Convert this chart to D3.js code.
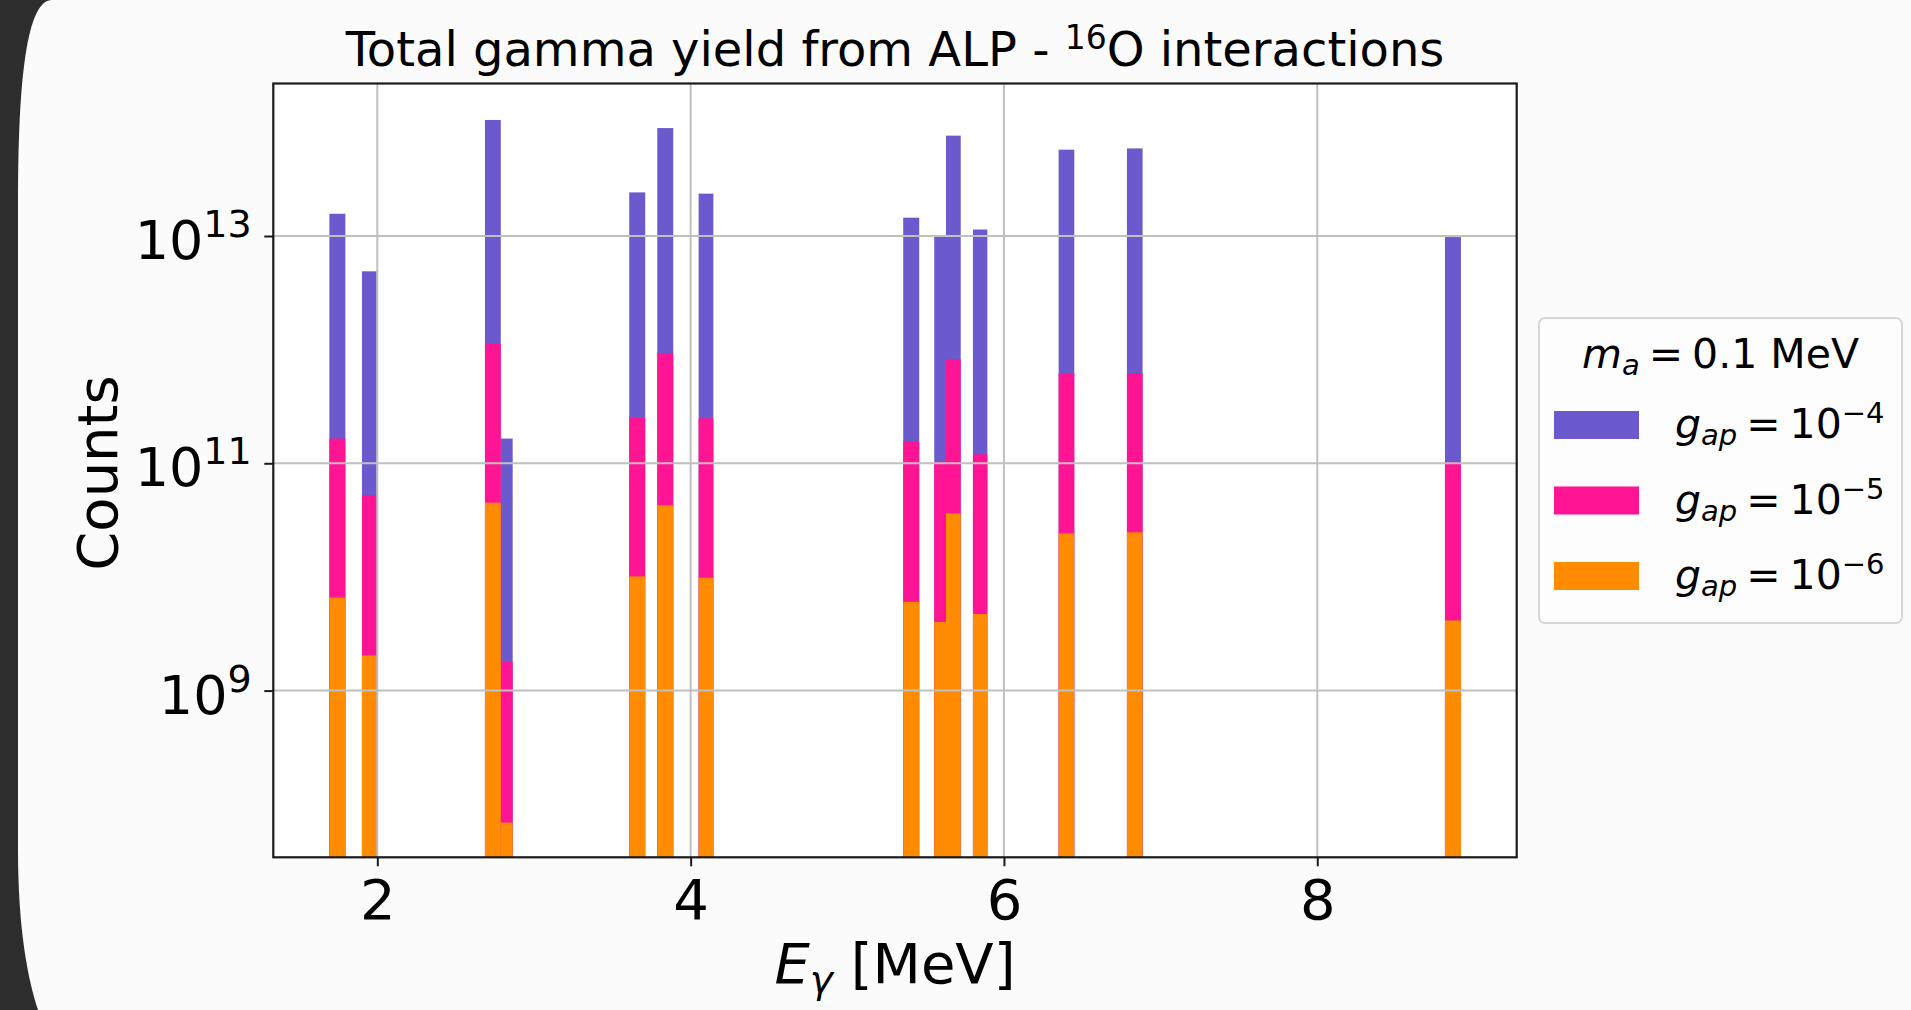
<!DOCTYPE html>
<html>
<head>
<meta charset="utf-8">
<script src="https://cdn.jsdelivr.net/npm/d3@7/dist/d3.min.js"></script>
<style>
  html, body { margin: 0; padding: 0; background: #2d2d2d; overflow: hidden; }
  svg { display: block; font-family: "DejaVu Sans", sans-serif; }
</style>
</head>
<body>
<div id="chart"></div>
<script>
"use strict";

// gamma line bins [MeV]
var binStart = [1.694, 1.902, 2.687, 2.788, 3.608, 3.787, 4.051, 5.357, 5.555, 5.630, 5.802, 6.349, 6.785, 8.815];
var binEnd = [1.796, 1.996, 2.788, 2.864, 3.710, 3.889, 4.145, 5.459, 5.630, 5.724, 5.894, 6.449, 6.885, 8.917];

// counts per bin for each coupling
var countsG4 = [1.57e13, 4.89e12, 1.05e14, 1.65e11, 2.42e13, 8.91e13, 2.36e13, 1.45e13, 9.86e12, 7.64e13, 1.14e13, 5.75e13, 5.90e13, 9.79e12];
var countsG5 = [1.65e11, 5.26e10, 1.13e12, 1.79e9, 2.54e11, 9.35e11, 2.49e11, 1.56e11, 1.03e11, 8.22e11, 1.20e11, 6.19e11, 6.19e11, 1.02e11];
var countsG6 = [6.58e9, 2.04e9, 4.50e10, 6.89e7, 1.01e10, 4.27e10, 9.84e9, 6.03e9, 4.02e9, 3.63e10, 4.72e9, 2.42e10, 2.47e10, 4.14e9];

var xTicks = [2, 4, 6, 8];
var yTicks = [1e9, 1e11, 1e13];
var yTickExp = ["9", "11", "13"];
var seriesExp = ["\u22124", "\u22125", "\u22126"];

var colors = ["#6a5acd", "#ff1493", "#ff8c00"];

draw(document.getElementById("chart"));

function draw(element) {
  var W = 1911, H = 1010;
  var margin = { top: 83.5, right: 394.3, bottom: 152.7, left: 273.3 },
    width = W - margin.left - margin.right,
    height = H - margin.top - margin.bottom;

  var x = d3.scaleLinear().domain([1.336, 9.273]).range([0, width]);
  var y = d3
    .scaleLog()
    .domain([Math.pow(10, 7.533), Math.pow(10, 14.342)])
    .range([height, 0]);

  var root = d3
    .select(element)
    .append("svg")
    .attr("width", W)
    .attr("height", H);

  // the light card on the dark frame
  root
    .append("path")
    .attr("d", "M1911,0 L52,0 C30,0 18,60 18,200 L18,850 C18,930 28,980 38,1010 L1911,1010 Z")
    .attr("fill", "#fbfbfb");

  var svg = root
    .append("g")
    .attr("transform", "translate(" + margin.left + "," + margin.top + ")");

  svg
    .append("rect")
    .attr("width", width)
    .attr("height", height)
    .attr("fill", "#ffffff");

  var series = [countsG4, countsG5, countsG6];
  var idx = d3.range(binStart.length);

  series.forEach(function(vals, i) {
    svg
      .selectAll(".bar-" + i)
      .data(idx)
      .enter()
      .append("rect")
      .attr("class", "bar-" + i)
      .attr("x", function(d) {
        return x(binStart[d]);
      })
      .attr("width", function(d) {
        return x(binEnd[d]) - x(binStart[d]);
      })
      .attr("y", function(d) {
        return y(vals[d]);
      })
      .attr("height", function(d) {
        return height - y(vals[d]);
      })
      .attr("fill", colors[i]);
  });

  // grid on top of the bars, like matplotlib does
  svg
    .selectAll(".vgrid")
    .data(xTicks)
    .enter()
    .append("line")
    .attr("x1", function(d) { return x(d); })
    .attr("x2", function(d) { return x(d); })
    .attr("y1", 0)
    .attr("y2", height)
    .style("stroke", "#c0c0c0")
    .style("stroke-width", 2);

  svg
    .selectAll(".hgrid")
    .data(yTicks)
    .enter()
    .append("line")
    .attr("x1", 0)
    .attr("x2", width)
    .attr("y1", function(d) { return y(d); })
    .attr("y2", function(d) { return y(d); })
    .style("stroke", "#c0c0c0")
    .style("stroke-width", 2);

  var xAxis = svg
    .append("g")
    .attr("transform", "translate(0," + height + ")")
    .call(
      d3.axisBottom(x)
        .tickValues(xTicks)
        .tickSize(9)
        .tickPadding(13)
        .tickFormat(d3.format("d"))
    );
  xAxis.select(".domain").remove();
  xAxis.selectAll("line").style("stroke", "#1a1a1a").style("stroke-width", 2);
  xAxis
    .selectAll("text")
    .style("font-family", "DejaVu Sans")
    .style("font-size", "56px")
    .style("fill", "#000");

  var yAxis = svg
    .append("g")
    .call(d3.axisLeft(y).tickValues(yTicks).tickSize(9).tickFormat(""));
  yAxis.select(".domain").remove();
  yAxis.selectAll("line").style("stroke", "#1a1a1a").style("stroke-width", 2);

  var yLab = svg
    .selectAll(".ylab")
    .data(yTicks)
    .enter()
    .append("text")
    .attr("class", "ylab")
    .attr("x", -21.6)
    .attr("y", function(d) {
      return y(d) + 23;
    })
    .attr("text-anchor", "end")
    .style("font-size", "54px");
  yLab.append("tspan").text("10");
  yLab
    .append("tspan")
    .attr("dy", -22)
    .style("font-size", "38px")
    .text(function(d, i) {
      return yTickExp[i];
    });

  // spines
  svg
    .append("rect")
    .attr("width", width)
    .attr("height", height)
    .attr("fill", "none")
    .style("stroke", "#1a1a1a")
    .style("stroke-width", 2.2);

  // title
  var title = root
    .append("text")
    .attr("x", margin.left + width / 2)
    .attr("y", 66)
    .attr("text-anchor", "middle")
    .style("font-size", "48px");
  title.append("tspan").text("Total gamma yield from ALP - ");
  title.append("tspan").attr("dy", -17).style("font-size", "33px").text("16");
  title.append("tspan").attr("dy", 17).text("O interactions");

  // axis labels
  var xl = root
    .append("text")
    .attr("x", margin.left + width / 2)
    .attr("y", 983)
    .attr("text-anchor", "middle")
    .style("font-size", "56px");
  xl.append("tspan").style("font-style", "italic").text("E");
  xl.append("tspan").attr("dy", 10).style("font-style", "italic").style("font-size", "39px").text("\u03b3");
  xl.append("tspan").attr("dy", -10).text(" [MeV]");

  root
    .append("text")
    .attr("transform", "translate(117,473) rotate(-90)")
    .attr("text-anchor", "middle")
    .style("font-size", "56px")
    .text("Counts");

  // legend
  var lg = root.append("g");
  lg.append("rect")
    .attr("x", 1539)
    .attr("y", 318)
    .attr("width", 363)
    .attr("height", 305)
    .attr("rx", 6)
    .attr("fill", "#fdfdfd")
    .style("stroke", "#d6d6d6")
    .style("stroke-width", 2);

  var lt = lg
    .append("text")
    .attr("x", 1720.5)
    .attr("y", 368)
    .attr("text-anchor", "middle")
    .style("font-size", "41px");
  lt.append("tspan").style("font-style", "italic").text("m");
  lt.append("tspan").attr("dy", 7).style("font-style", "italic").style("font-size", "29px").text("a");
  lt.append("tspan").attr("dy", -7).attr("dx", 9).text("=");
  lt.append("tspan").attr("dx", 9).text("0.1 MeV");

  seriesExp.forEach(function(e, i) {
    var yy = 411 + i * 75.5;
    lg.append("rect")
      .attr("x", 1554)
      .attr("y", yy)
      .attr("width", 85)
      .attr("height", 28)
      .attr("fill", colors[i]);
    var t = lg
      .append("text")
      .attr("x", 1675)
      .attr("y", yy + 27)
      .style("font-size", "41px");
    t.append("tspan").style("font-style", "italic").text("g");
    t.append("tspan").attr("dy", 7).style("font-style", "italic").style("font-size", "29px").text("ap");
    t.append("tspan").attr("dy", -7).attr("dx", 9).text("=");
    t.append("tspan").attr("dx", 9).text("10");
    t.append("tspan").attr("dy", -15).style("font-size", "29px").text(e);
  });
}
</script>
</body>
</html>
